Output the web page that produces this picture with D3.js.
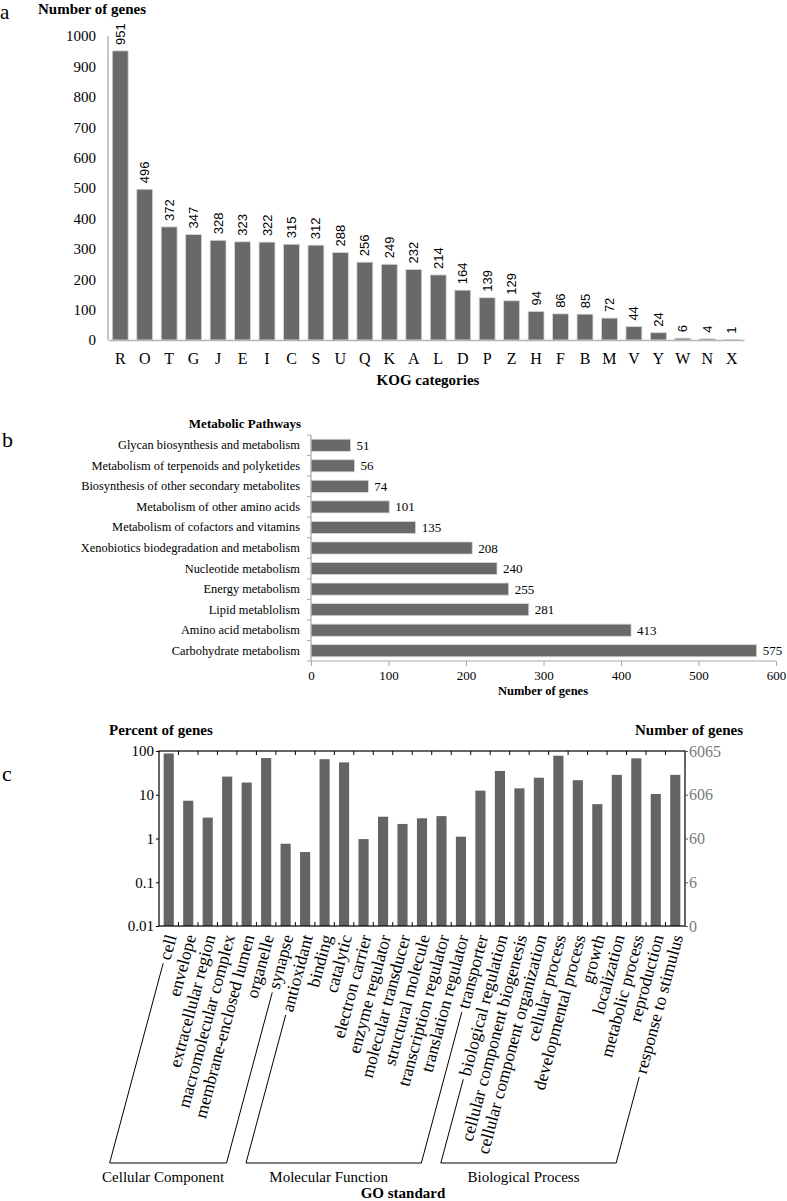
<!DOCTYPE html>
<html><head><meta charset="utf-8">
<script src="https://cdn.jsdelivr.net/npm/d3@7"></script>
<style>
body{margin:0;background:#fff}
svg text{font-family:"Liberation Serif","Times New Roman",serif;fill:#000}
</style>
</head><body>
<svg id="chart" width="787" height="1201"></svg>
<script>
// ---------- Panel a data ----------
const kogCategories = ["R","O","T","G","J","E","I","C","S","U","Q","K","A","L","D","P","Z","H","F","B","M","V","Y","W","N","X"];
const kogCounts = [951,496,372,347,328,323,322,315,312,288,256,249,232,214,164,139,129,94,86,85,72,44,24,6,4,1];
const kogTicks = [0,100,200,300,400,500,600,700,800,900,1000];

// ---------- Panel b data ----------
const pathways = ["Glycan biosynthesis and metabolism","Metabolism of terpenoids and polyketides","Biosynthesis of other secondary metabolites","Metabolism of other amino acids","Metabolism of cofactors and vitamins","Xenobiotics biodegradation and metabolism","Nucleotide metabolism","Energy metabolism","Lipid metablolism","Amino acid metabolism","Carbohydrate metabolism"];
const pathwayCounts = [51,56,74,101,135,208,240,255,281,413,575];
const pathwayTicks = [0,100,200,300,400,500,600];

// ---------- Panel c data ----------
const goTerms = ["cell","envelope","extracellular region","macromolecular complex","membrane-enclosed lumen","organelle","synapse","antioxidant","binding","catalytic","electron carrier","enzyme regulator","molecular transducer","structural molecule","transcription regulator","translation regulator","transporter","biological regulation","cellular component biogenesis","cellular component organization","cellular process","developmental process","growth","localization","metabolic process","reproduction","response to stimulus"];
const goPercent = [88,7.3,3.0,26,19,69,0.76,0.49,65,55,0.97,3.15,2.15,2.9,3.25,1.1,12.4,35,14,24.5,78,21.5,6.1,28.5,68,10.4,28.5];
const goGroups = ["Cellular Component","Molecular Function","Biological Process"];
const goGroupSizes = [7,10,10];
const goPercentTicks = [0.01,0.1,1,10,100];
const goCountTickLabels = ["0","6","60","606","6065"];

const svg = d3.select("#chart");
const barFill = "#696969";

// ================= Panel a =================
const gA = svg.append("g");
const xA = d3.scaleBand().domain(kogCategories).range([108,744]).paddingInner(0.35).paddingOuter(0.175);
const yA = d3.scaleLinear().domain([0,1000]).range([340,36]);

gA.append("text").attr("x",0).attr("y",19).style("font-size","21px").text("a");
gA.append("text").attr("x",38).attr("y",14).style("font-size","15px").style("font-weight","bold").text("Number of genes");

gA.selectAll("rect").data(kogCounts).join("rect")
  .attr("x",(d,i)=>xA(kogCategories[i])).attr("width",xA.bandwidth())
  .attr("y",d=>yA(d)).attr("height",d=>yA(0)-yA(d))
  .attr("fill",barFill).attr("stroke","#d8d8d8").attr("stroke-width",0.8);

const axA = gA.append("g").attr("transform","translate(108,0)")
  .call(d3.axisLeft(yA).tickValues(kogTicks).tickSize(0).tickPadding(12).tickFormat(d3.format("d")));
axA.select(".domain").attr("stroke","#b5b5b5").attr("stroke-width",1.5).attr("d","M0,340V36");
axA.selectAll("text").style("font-size","15px").style("font-family","Liberation Serif");

const axAx = gA.append("g").attr("transform","translate(0,340)")
  .call(d3.axisBottom(xA).tickSize(0).tickPadding(13));
axAx.select(".domain").attr("stroke","#b5b5b5").attr("stroke-width",1.5);
axAx.selectAll("text").style("font-size","16px").style("font-family","Liberation Serif");

gA.selectAll("text.val").data(kogCounts).join("text").attr("class","val")
  .attr("transform",(d,i)=>`translate(${xA(kogCategories[i])+xA.bandwidth()/2},${yA(d)-6}) rotate(-90)`)
  .attr("dy","0.35em").attr("text-anchor","start")
  .style("font-family","Liberation Sans, Arial, sans-serif").style("font-size","13px")
  .text(d=>d);

gA.append("text").attr("x",428).attr("y",385).attr("text-anchor","middle")
  .style("font-size","15px").style("font-weight","bold").text("KOG categories");

// ================= Panel b =================
const gB = svg.append("g");
const yB = d3.scaleBand().domain(pathways).range([435,661]).paddingInner(0.41).paddingOuter(0.205);
const xB = d3.scaleLinear().domain([0,600]).range([311,776]);

gB.append("text").attr("x",2).attr("y",447).style("font-size","22px").text("b");
gB.append("text").attr("x",245).attr("y",428).attr("text-anchor","middle")
  .style("font-size","13px").style("font-weight","bold").text("Metabolic Pathways");

gB.selectAll("rect").data(pathwayCounts).join("rect")
  .attr("x",xB(0)).attr("y",(d,i)=>yB(pathways[i])).attr("height",yB.bandwidth())
  .attr("width",d=>xB(d)-xB(0))
  .attr("fill",barFill).attr("stroke","#d8d8d8").attr("stroke-width",0.8);

const axB = gB.append("g").attr("transform",`translate(${xB(0)},0)`)
  .call(d3.axisLeft(yB).tickSize(0).tickPadding(11));
axB.select(".domain").attr("stroke","#a8a8a8").attr("stroke-width",1.2).attr("d","M0,435V661");
axB.selectAll("text").style("font-size","12.4px").style("font-family","Liberation Serif");
const bounds = pathways.map((p,i)=>yB(p)-yB.step()*yB.paddingInner()/2).concat([661]);
gB.selectAll("line.bt").data(bounds).join("line").attr("class","bt")
  .attr("x1",xB(0)-4).attr("x2",xB(0)).attr("y1",d=>d).attr("y2",d=>d)
  .attr("stroke","#a8a8a8").attr("stroke-width",1);

const axBx = gB.append("g").attr("transform","translate(0,661)")
  .call(d3.axisBottom(xB).tickValues(pathwayTicks).tickSize(5).tickPadding(5).tickFormat(d3.format("d")));
axBx.select(".domain").attr("stroke","#a8a8a8").attr("stroke-width",1.2).attr("d","M311,0H776");
axBx.selectAll(".tick line").attr("stroke","#a8a8a8");
axBx.selectAll("text").style("font-size","13px").style("font-family","Liberation Serif");

gB.selectAll("text.val").data(pathwayCounts).join("text").attr("class","val")
  .attr("x",d=>xB(d)+6).attr("y",(d,i)=>yB(pathways[i])+yB.bandwidth()/2)
  .attr("dy","0.35em").style("font-size","13px").text(d=>d);

gB.append("text").attr("x",543).attr("y",695).attr("text-anchor","middle")
  .style("font-size","12.5px").style("font-weight","bold").text("Number of genes");

// ================= Panel c =================
const gC = svg.append("g");
const xC = d3.scaleBand().domain(goTerms).range([159,685]).paddingInner(0.48).paddingOuter(0.24);
const yC = d3.scaleLog().domain([0.01,100]).range([926,751]);

gC.append("text").attr("x",2).attr("y",781).style("font-size","22px").text("c");
gC.append("text").attr("x",109).attr("y",735).style("font-size","15px").style("font-weight","bold").text("Percent of genes");
gC.append("text").attr("x",743).attr("y",735).attr("text-anchor","end").style("font-size","15px").style("font-weight","bold").text("Number of genes");

gC.selectAll("rect").data(goPercent).join("rect")
  .attr("x",(d,i)=>xC(goTerms[i])).attr("width",xC.bandwidth())
  .attr("y",d=>yC(d)).attr("height",d=>yC(0.01)-yC(d))
  .attr("fill","#646464");

gC.append("rect").attr("x",159).attr("y",751).attr("width",526).attr("height",175)
  .attr("fill","none").attr("stroke","#000").attr("stroke-width",1.2);

const cb = goTerms.map(t=>xC(t)-xC.step()*xC.paddingInner()/2).slice(1);
gC.selectAll("line.tt").data(cb).join("line").attr("class","tt")
  .attr("x1",d=>d).attr("x2",d=>d).attr("y1",751).attr("y2",755).attr("stroke","#000");
gC.selectAll("line.bt").data(cb).join("line").attr("class","bt")
  .attr("x1",d=>d).attr("x2",d=>d).attr("y1",926).attr("y2",922).attr("stroke","#000");

const axCL = gC.append("g").attr("transform","translate(159,0)")
  .call(d3.axisLeft(yC).tickValues(goPercentTicks).tickSize(3).tickPadding(2).tickFormat(d=>String(d)));
axCL.select(".domain").remove();
axCL.selectAll("text").style("font-size","15px").style("font-family","Liberation Serif");

const axCR = gC.append("g").attr("transform","translate(685,0)")
  .call(d3.axisRight(yC).tickValues(goPercentTicks).tickSize(3).tickPadding(1).tickFormat((d,i)=>goCountTickLabels[i]));
axCR.select(".domain").remove();
axCR.selectAll(".tick line").attr("stroke","#555");
axCR.selectAll("text").style("font-size","16px").style("font-family","Liberation Serif").style("fill","#7a7a7a");

// rotated labels
const ang = 75, rad = ang*Math.PI/180;
const ux = -Math.cos(rad), uy = Math.sin(rad);
const anchorY = 935, bottomY = 1163;
const labels = gC.selectAll("text.go").data(goTerms).join("text").attr("class","go")
  .attr("transform",t=>`translate(${xC(t)+xC.bandwidth()/2+2},${anchorY}) rotate(${-ang})`)
  .attr("text-anchor","end").attr("dy","0.35em").style("font-size","17.5px").text(t=>t);

const lens = [];
labels.each(function(){ lens.push(this.getComputedTextLength()); });

let start = 0;
goGroups.forEach((g,gi)=>{
  const first = start, last = start + goGroupSizes[gi] - 1;
  const pts = [first,last].map(i=>{
    const ax = xC(goTerms[i])+xC.bandwidth()/2+2;
    const L = lens[i]+4;
    const sx = ax + ux*L, sy = anchorY + uy*L;
    const t = (bottomY-anchorY)/uy;
    return {sx,sy,ex:ax+ux*t,ey:bottomY};
  });
  const path = d3.path();
  path.moveTo(pts[0].sx,pts[0].sy); path.lineTo(pts[0].ex,pts[0].ey);
  path.lineTo(pts[1].ex,pts[1].ey); path.lineTo(pts[1].sx,pts[1].sy);
  gC.append("path").attr("d",path.toString()).attr("fill","none").attr("stroke","#000").attr("stroke-width",1);
  gC.append("text").attr("x",(pts[0].ex+pts[1].ex)/2-5).attr("y",1182).attr("text-anchor","middle")
    .style("font-size","15px").text(g);
  start = last+1;
});

gC.append("text").attr("x",403).attr("y",1198).attr("text-anchor","middle")
  .style("font-size","15px").style("font-weight","bold").text("GO standard");
</script>
</body></html>
